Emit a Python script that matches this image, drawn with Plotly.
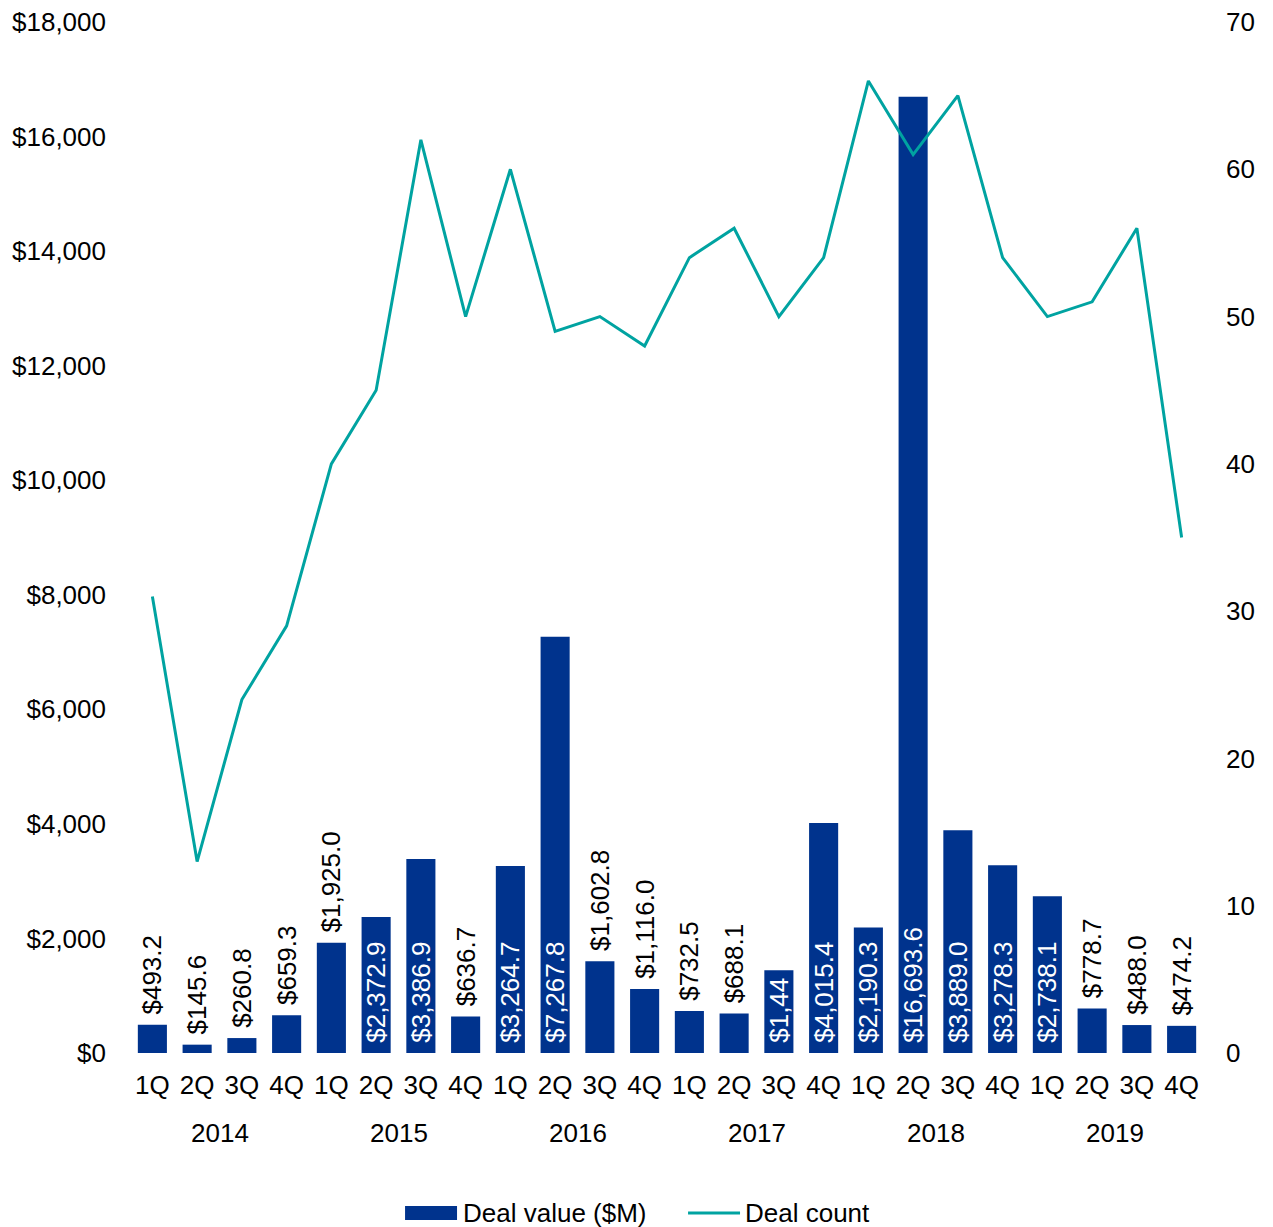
import plotly.graph_objects as go

years = ["2014", "2015", "2016", "2017", "2018", "2019"]
quarters = ["1Q", "2Q", "3Q", "4Q"] * 6
deal_value = [493.2, 145.6, 260.8, 659.3, 1925.0, 2372.9, 3386.9, 636.7,
              3264.7, 7267.8, 1602.8, 1116.0, 732.5, 688.1, 1443.0, 4015.4,
              2190.3, 16693.6, 3889.0, 3278.3, 2738.1, 778.7, 488.0, 474.2]
value_labels = ["$493.2", "$145.6", "$260.8", "$659.3", "$1,925.0", "$2,372.9", "$3,386.9", "$636.7",
                "$3,264.7", "$7,267.8", "$1,602.8", "$1,116.0", "$732.5", "$688.1", "$1,44", "$4,015.4",
                "$2,190.3", "$16,693.6", "$3,889.0", "$3,278.3", "$2,738.1", "$778.7", "$488.0", "$474.2"]
label_inside = [False, False, False, False, False, True, True, False,
                True, True, False, False, False, False, True, True,
                True, True, True, True, True, False, False, False]
deal_count = [31, 13, 24, 29, 40, 45, 62, 50, 60, 49, 50, 48,
              54, 56, 50, 54, 66, 61, 65, 54, 50, 51, 56, 35]
series_names = ["Deal value ($M)", "Deal count"]

BLUE = "#00338D"
TEAL = "#00A3A1"
FONT = "Arial, Liberation Sans, sans-serif"
FS = 26

xi = list(range(len(quarters)))

fig = go.Figure()
fig.add_trace(go.Bar(
    x=xi, y=deal_value, name=series_names[0], showlegend=False,
    marker=dict(color=BLUE, line=dict(width=0)),
    width=0.65,
    text=["\u00a0" + t for t in value_labels],
    textposition=["inside" if i else "outside" for i in label_inside],
    insidetextanchor="start",
    textangle=-90,
    constraintext="none",
    insidetextfont=dict(color="white", size=FS, family=FONT),
    outsidetextfont=dict(color="black", size=FS, family=FONT),
    cliponaxis=False,
    hoverinfo="skip",
))
fig.add_trace(go.Scatter(
    x=xi, y=deal_count, name=series_names[1], yaxis="y2", showlegend=False,
    mode="lines", line=dict(color=TEAL, width=3),
    hoverinfo="skip",
))

# year labels under each group of quarters
for k, yr in enumerate(years):
    fig.add_annotation(
        x=k * 4 + 1.5, xref="x", y=0, yref="paper", yanchor="middle",
        yshift=-80, text=yr, showarrow=False, font=dict(size=FS, family=FONT, color="black"),
    )

# legend (drawn in the bottom margin)
PH = 1031.0
LY = -160 / PH
HH = 7 / PH
fig.add_shape(type="rect", xref="paper", yref="paper", x0=0.2561, x1=0.3045,
              y0=LY - HH, y1=LY + HH, fillcolor=BLUE, line=dict(width=0))
fig.add_annotation(x=0.3091, y=LY, xref="paper", yref="paper", xanchor="left", yanchor="middle",
                   text=series_names[0], showarrow=False, borderpad=0,
                   font=dict(size=FS, family=FONT, color="black"))
fig.add_shape(type="line", xref="paper", yref="paper", x0=0.5196, x1=0.5680,
              y0=LY, y1=LY, line=dict(color=TEAL, width=3))
fig.add_annotation(x=0.5717, y=LY, xref="paper", yref="paper", xanchor="left", yanchor="middle",
                   text=series_names[1], showarrow=False, borderpad=0,
                   font=dict(size=FS, family=FONT, color="black"))

fig.update_layout(
    width=1265, height=1219,
    margin=dict(l=122, r=69, t=14, b=174),
    paper_bgcolor="white", plot_bgcolor="white",
    font=dict(family=FONT, size=FS, color="black"),
    uniformtext=dict(minsize=FS, mode="show"),
    showlegend=False,
    xaxis=dict(range=[-0.5, len(quarters) - 0.5], tickvals=xi, ticktext=quarters,
               showgrid=False, showline=False, zeroline=False, ticks="",
               automargin=False, ticklabelstandoff=14, ticklabeloverflow="allow"),
    yaxis=dict(range=[0, 18000], dtick=2000, tickprefix="$", tickformat=",",
               showgrid=False, zeroline=False, showline=False, ticks="",
               automargin=False, ticklabelstandoff=23, ticklabeloverflow="allow"),
    yaxis2=dict(range=[0, 70], dtick=10, overlaying="y", side="right",
                showgrid=False, zeroline=False, showline=False, ticks="",
                automargin=False, ticklabelstandoff=21, ticklabeloverflow="allow"),
)

fig.write_html("out.html")
